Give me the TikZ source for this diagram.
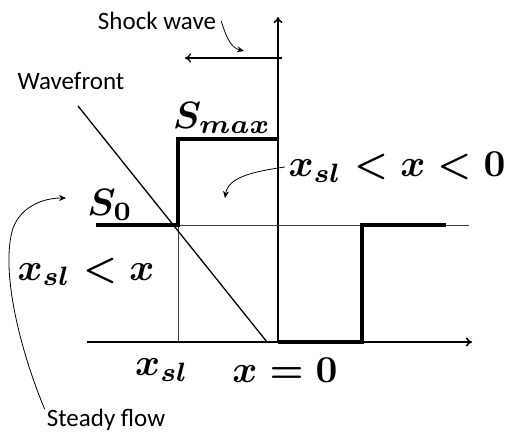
\documentclass[tikz,border=0pt]{standalone}
\usepackage{amsmath}
\usepackage{fontspec}
\setmainfont{Carlito}
\usetikzlibrary{arrows.meta}

\tikzset{
    axis/.style={line width=1.6pt,-{To[length=6pt,width=9pt]}},
    profile/.style={line width=3.6pt},
    guide/.style={line width=0.7pt,black!75},
    pointer/.style={line width=0.8pt,-{Stealth[length=7pt,width=6pt]}},
    mathlbl/.style={inner sep=0pt,scale=3.8,font=\boldmath},
    txt/.style={inner sep=0pt,font=\fontsize{25}{28}\selectfont},
}

\begin{document}
\begin{tikzpicture}[x=1pt,y=-1pt]
    \useasboundingbox (0,0) rectangle (505,434);

    % points of the profile
    \coordinate (o) at (87,342);
    \coordinate (xend) at (472,342);
    \coordinate (zero) at (278,342);
    \coordinate (ytop) at (278,17);
    \coordinate (s0start) at (96,225);
    \coordinate (slcorner) at (178,225);
    \coordinate (sltop) at (178,139);
    \coordinate (maxend) at (278,139);
    \coordinate (dip) at (362,342);
    \coordinate (rise) at (362,225);
    \coordinate (s0end) at (446,225);
    \coordinate (guideend) at (469,225);
    \coordinate (slfoot) at (178,342);
    \coordinate (wavetop) at (78,106);
    \coordinate (wavefoot) at (267,342);
    \coordinate (shockstart) at (282,58);
    \coordinate (shockend) at (185,58);

    % axes
    \draw[axis] (o) -- (xend);
    \draw[axis] (zero) -- (ytop);

    % guide lines
    \draw[guide] (slcorner) -- (guideend);
    \draw[guide] (slcorner) -- (slfoot);
    \draw[line width=1.3pt] (wavetop) -- (wavefoot);

    % profile
    \draw[profile] (s0start) -- (slcorner) -- (sltop) -- (maxend);
    \draw[profile] (zero) -- (dip) -- (rise) -- (s0end);

    % shock wave
    \draw[axis,line width=1.3pt] (shockstart) -- (shockend);

    % labels
    \node[txt] (shock) at (157,21) {Shock wave};
    \node[txt] (wave) at (71,81) {Wavefront};
    \node[mathlbl] (smax) at (222,118) {$S_{max}$};
    \node[mathlbl] (mid) at (397,167) {$x_{sl}<x<0$};
    \node[mathlbl] (szero) at (110,205) {$S_0$};
    \node[mathlbl] (left) at (86,272) {$x_{sl}<x$};
    \node[mathlbl] (xsl) at (162,370) {$x_{sl}$};
    \node[mathlbl] (xzero) at (285,370) {$x=0$};
    \node[txt] (steady) at (106,420) {Steady flow};

    \coordinate (shockhit) at (244,51);
    \coordinate (midhit) at (225,198);
    \coordinate (steadyhit) at (66,198);

    % pointers
    \draw[pointer] ([xshift=5pt]shock.east) .. controls (227,40) and (232,48) .. (shockhit);
    \draw[pointer] ([xshift=-3pt]mid.west) .. controls (250,172) and (228,178) .. (midhit);
    \draw[pointer] ([xshift=-2pt]steady.north west) .. controls (20,350) and (0,270) .. (13,228)
        .. controls (22,205) and (45,198) .. (steadyhit);
\end{tikzpicture}
\end{document}
